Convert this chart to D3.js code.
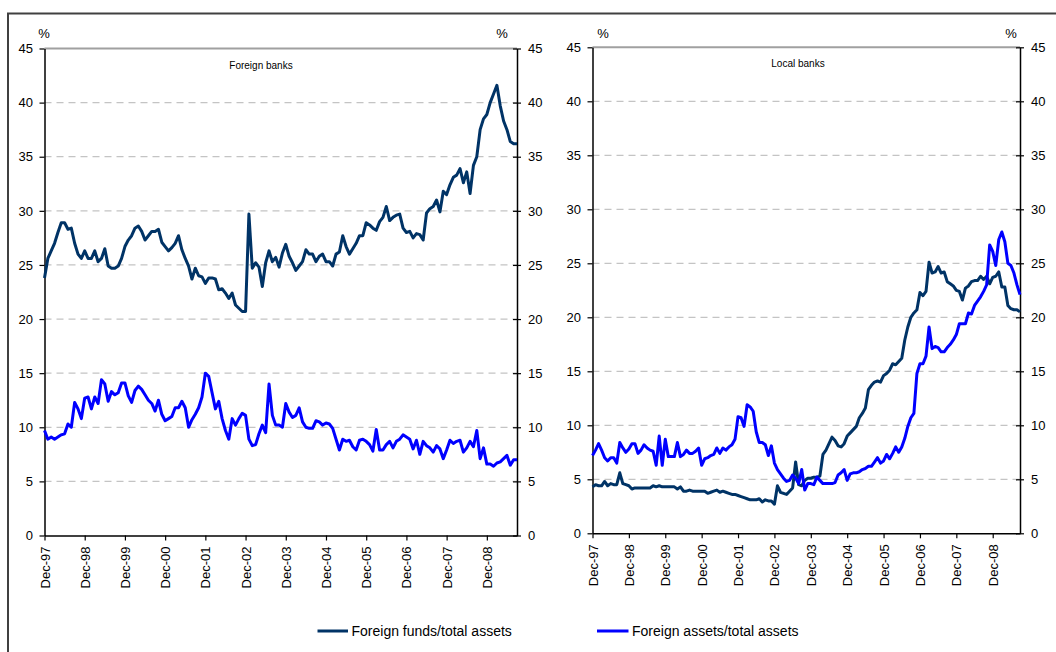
<!DOCTYPE html>
<html>
<head>
<meta charset="utf-8">
<script src="https://cdn.jsdelivr.net/npm/d3@7"></script>
<style>
  html, body { margin: 0; padding: 0; background: #fff; }
  svg { display: block; font-family: "Liberation Sans", Arial, sans-serif; }
</style>
</head>
<body>
<svg id="chart" width="1056" height="652"></svg>
<script>
// ---------- DATA ----------
// Monthly observations, Dec-97 .. Sep-09 (142 months)
const categories = d3.timeMonth.range(new Date(1997, 11, 1), new Date(2009, 9, 1)).map(d3.timeFormat("%b-%y"));
const tickLabels = ["Dec-97","Dec-98","Dec-99","Dec-00","Dec-01","Dec-02","Dec-03","Dec-04","Dec-05","Dec-06","Dec-07","Dec-08"];
const yTicks = [0, 5, 10, 15, 20, 25, 30, 35, 40, 45];
const seriesNames = ["Foreign funds/total assets", "Foreign assets/total assets"];
const panelTitles = ["Foreign banks", "Local banks"];

// Foreign banks
const foreignBanksFunds = [
  23.8,25.6,26.3,27.0,28.0,28.9,28.9,28.3,28.4,27.0,26.0,25.6,
  26.3,25.6,25.6,26.3,25.3,25.6,26.5,24.9,24.7,24.7,24.9,25.6,
  26.7,27.3,27.7,28.4,28.6,28.1,27.3,27.7,28.1,28.1,28.3,27.1,
  26.7,26.3,26.6,27.0,27.7,26.4,25.6,24.9,23.7,24.7,24.0,23.9,
  23.3,23.8,23.8,23.7,22.7,22.8,22.4,21.9,22.4,21.3,21.0,20.7,
  20.7,29.7,24.7,25.2,24.8,23.0,25.2,26.3,25.3,25.7,24.8,26.1,
  26.9,25.8,25.2,24.5,24.9,25.3,26.4,26.0,26.0,25.3,25.8,26.0,
  25.3,25.3,24.9,26.0,26.2,27.7,26.7,26.0,26.5,27.0,27.7,27.7,
  28.9,28.7,28.4,28.2,29.0,29.4,30.4,29.1,29.4,29.6,29.7,28.4,
  28.0,28.1,27.5,27.9,27.8,27.3,29.8,30.2,30.4,31.0,29.9,31.8,
  31.5,32.4,33.1,33.3,33.9,32.6,33.6,31.6,34.2,35.0,37.5,38.5,
  38.9,40.0,40.8,41.6,39.7,38.3,37.5,36.4,36.2,36.2
];
const foreignBanksAssets = [
  9.7,8.9,9.1,8.9,9.1,9.3,9.4,10.3,10.0,12.3,11.7,10.8,
  12.7,12.8,11.7,12.8,12.2,14.4,14.0,12.4,13.3,13.0,13.2,14.1,
  14.1,12.9,12.3,13.4,13.8,13.5,13.0,12.5,12.2,11.5,12.5,11.2,
  10.6,10.8,11.0,11.8,11.8,12.4,11.8,10.0,10.7,11.2,11.8,12.8,
  15.0,14.7,13.2,11.7,12.4,10.8,9.7,8.9,10.8,10.2,10.8,11.3,
  11.1,8.9,8.3,8.4,9.4,10.2,9.5,14.0,11.1,10.2,10.2,10.0,
  12.2,11.4,10.9,11.1,11.8,10.5,10.0,9.9,9.9,10.6,10.5,10.2,
  10.4,10.3,9.9,8.9,7.9,8.9,8.7,8.8,8.2,7.9,8.8,8.9,
  8.7,8.4,7.8,9.8,7.9,7.9,8.4,8.7,8.1,8.7,8.9,9.3,
  9.1,8.9,8.0,8.8,7.5,8.7,8.3,8.1,7.7,8.3,8.0,7.1,
  7.9,8.8,8.5,8.7,8.8,7.7,8.1,8.7,8.2,9.7,7.1,8.1,
  6.6,6.6,6.4,6.7,6.8,7.1,7.4,6.5,7.0,7.0
];
// Local banks
const localBanksFunds = [
  4.3,4.5,4.4,4.4,4.8,4.4,4.6,4.5,4.5,5.6,4.6,4.5,
  4.4,4.1,4.2,4.2,4.2,4.2,4.2,4.2,4.4,4.3,4.4,4.3,
  4.3,4.3,4.3,4.3,4.1,4.3,3.9,3.9,4.0,3.9,3.9,3.9,
  3.9,3.9,3.7,3.8,3.9,4.0,3.8,3.9,3.8,3.7,3.6,3.6,
  3.5,3.4,3.3,3.2,3.1,3.1,3.1,3.2,2.9,3.1,3.0,3.0,
  2.7,4.4,3.8,3.7,3.6,3.9,4.2,6.6,4.5,4.4,4.9,5.1,
  5.1,5.2,5.2,5.3,7.3,7.7,8.3,8.9,8.6,8.1,8.0,8.3,
  9.0,9.3,9.6,9.9,10.7,11.1,11.6,13.3,13.7,14.0,14.1,14.0,
  14.6,14.8,15.1,15.7,15.6,15.9,16.2,17.9,19.1,20.0,20.4,20.7,
  22.3,22.0,22.4,25.1,24.1,24.2,24.7,24.1,24.2,23.3,23.1,22.9,
  22.5,22.4,21.6,22.7,22.9,23.3,23.4,23.4,23.8,23.5,23.8,23.1,
  23.7,23.8,24.2,22.8,22.8,21.1,20.8,20.7,20.7,20.5
];
const localBanksAssets = [
  7.2,7.7,8.3,7.7,7.0,6.7,7.0,7.0,6.5,8.4,7.9,7.5,
  7.8,8.3,8.3,7.4,7.7,8.2,7.9,7.7,7.6,6.3,9.0,6.3,
  8.7,7.1,7.1,7.1,8.4,7.1,7.3,7.7,7.4,7.4,7.6,7.9,
  6.3,6.9,7.0,7.2,7.3,7.9,7.4,7.9,7.7,8.0,8.2,8.7,
  10.8,10.7,9.9,11.9,11.7,11.3,9.4,8.4,8.4,8.2,7.2,8.1,
  6.5,5.9,5.5,5.1,4.8,4.9,5.4,5.1,4.6,5.9,4.0,4.6,
  4.6,4.5,5.2,4.9,4.6,4.6,4.6,4.6,4.7,5.4,5.6,5.9,
  4.9,5.5,5.6,5.6,5.7,5.9,6.0,6.2,6.2,6.6,7.0,6.5,
  6.7,7.3,6.9,7.4,8.0,7.5,8.0,8.8,9.9,10.7,11.1,14.8,
  15.7,15.7,16.4,19.1,17.1,17.3,17.2,16.8,16.8,17.2,17.5,17.9,
  18.4,19.4,19.4,19.4,20.4,20.3,21.1,21.5,21.9,22.4,23.0,26.7,
  26.1,24.8,27.2,27.9,27.0,25.0,24.8,24.1,23.0,22.1
];

// ---------- STYLE / LAYOUT ----------
const colors = ["#003366", "#0000ff"];
const svg = d3.select("#chart");
svg.append("rect").attr("width", 1056).attr("height", 652).attr("fill", "#fff");
// outer frame (right/bottom edges fall outside the picture)
svg.append("rect").attr("x", 8).attr("y", 13.5).attr("width", 1070).attr("height", 660)
  .attr("fill", "none").attr("stroke", "#404040").attr("stroke-width", 2);

const panels = [
  { x0: 44.5, x1: 517, yTop: 48.5, yBot: 535.5, title: panelTitles[0], titleX: 261, titleY: 69,
    pctL: 44, pctR: 502, series: [foreignBanksFunds, foreignBanksAssets] },
  { x0: 592.5, x1: 1020, yTop: 47.3, yBot: 533.3, title: panelTitles[1], titleX: 798, titleY: 67,
    pctL: 603, pctR: 1011, series: [localBanksFunds, localBanksAssets] }
];

panels.forEach(p => {
  const x = d3.scalePoint().domain(categories).range([p.x0, p.x1]);
  const y = d3.scaleLinear().domain([0, 45]).range([p.yBot, p.yTop]);
  const g = svg.append("g");

  // gridlines
  g.selectAll("line.grid").data(yTicks.filter(v => v > 0 && v < 45)).join("line")
    .attr("x1", p.x0).attr("x2", p.x1)
    .attr("y1", d => y(d)).attr("y2", d => y(d))
    .attr("stroke", "#c4c4c4").attr("stroke-width", 1.3).attr("stroke-dasharray", "7,5");
  // top border line
  g.append("line").attr("x1", p.x0).attr("x2", p.x1).attr("y1", y(45)).attr("y2", y(45))
    .attr("stroke", "#a0a0a0").attr("stroke-width", 2);

  // left axis
  const ga = g.append("g").attr("transform", `translate(${p.x0},0)`)
    .call(d3.axisLeft(y).tickValues(yTicks).tickSize(5).tickSizeOuter(0));
  ga.select(".domain").attr("stroke", "#000").attr("stroke-width", 1.5);
  ga.selectAll(".tick line").attr("stroke", "#000").attr("stroke-width", 1.2);
  ga.selectAll(".tick text").attr("x", -11.5).attr("font-size", 13).attr("fill", "#000")
    .attr("font-family", "Liberation Sans, Arial, sans-serif");

  // right axis (crossing ticks)
  const gr = g.append("g").attr("transform", `translate(${p.x1},0)`)
    .call(d3.axisRight(y).tickValues(yTicks).tickSize(4).tickSizeOuter(0));
  gr.select(".domain").attr("stroke", "#000").attr("stroke-width", 1.5);
  gr.selectAll(".tick line").attr("x1", -4).attr("x2", 4).attr("stroke", "#000").attr("stroke-width", 1.2);
  gr.selectAll(".tick text").attr("x", 11).attr("font-size", 13).attr("fill", "#000")
    .attr("font-family", "Liberation Sans, Arial, sans-serif");

  // bottom axis
  const gb = g.append("g").attr("transform", `translate(0,${p.yBot})`)
    .call(d3.axisBottom(x).tickValues(tickLabels).tickSize(5).tickSizeOuter(0));
  gb.select(".domain").attr("stroke", "#000").attr("stroke-width", 1.5);
  gb.selectAll(".tick line").attr("stroke", "#000").attr("stroke-width", 1.2);
  gb.selectAll(".tick text")
    .attr("transform", "rotate(-90)")
    .attr("x", -11).attr("y", 0).attr("dy", "0.35em")
    .attr("text-anchor", "end").attr("font-size", 13).attr("fill", "#000")
    .attr("font-family", "Liberation Sans, Arial, sans-serif");

  // series lines
  const line = d3.line().x((d, i) => x(categories[i])).y(d => y(d));
  p.series.forEach((s, k) => {
    g.append("path").datum(s).attr("d", line)
      .attr("fill", "none").attr("stroke", colors[k]).attr("stroke-width", 3)
      .attr("stroke-linejoin", "round");
  });

  // % labels & title
  g.append("text").attr("x", p.pctL).attr("y", 37.5).attr("text-anchor", "middle")
    .attr("font-size", 13).text("%");
  g.append("text").attr("x", p.pctR).attr("y", 37.5).attr("text-anchor", "middle")
    .attr("font-size", 13).text("%");
  g.append("text").attr("x", p.titleX).attr("y", p.titleY).attr("text-anchor", "middle")
    .attr("font-size", 10).text(p.title);
});

// legend
const legendItems = [
  { x1: 317.5, x2: 348, tx: 351.5 },
  { x1: 597, x2: 628.5, tx: 632 }
];
legendItems.forEach((L, k) => {
  svg.append("line").attr("x1", L.x1).attr("x2", L.x2).attr("y1", 631).attr("y2", 631)
    .attr("stroke", colors[k]).attr("stroke-width", 3);
  svg.append("text").attr("x", L.tx).attr("y", 636).attr("font-size", 14).text(seriesNames[k]);
});
</script>
</body>
</html>
